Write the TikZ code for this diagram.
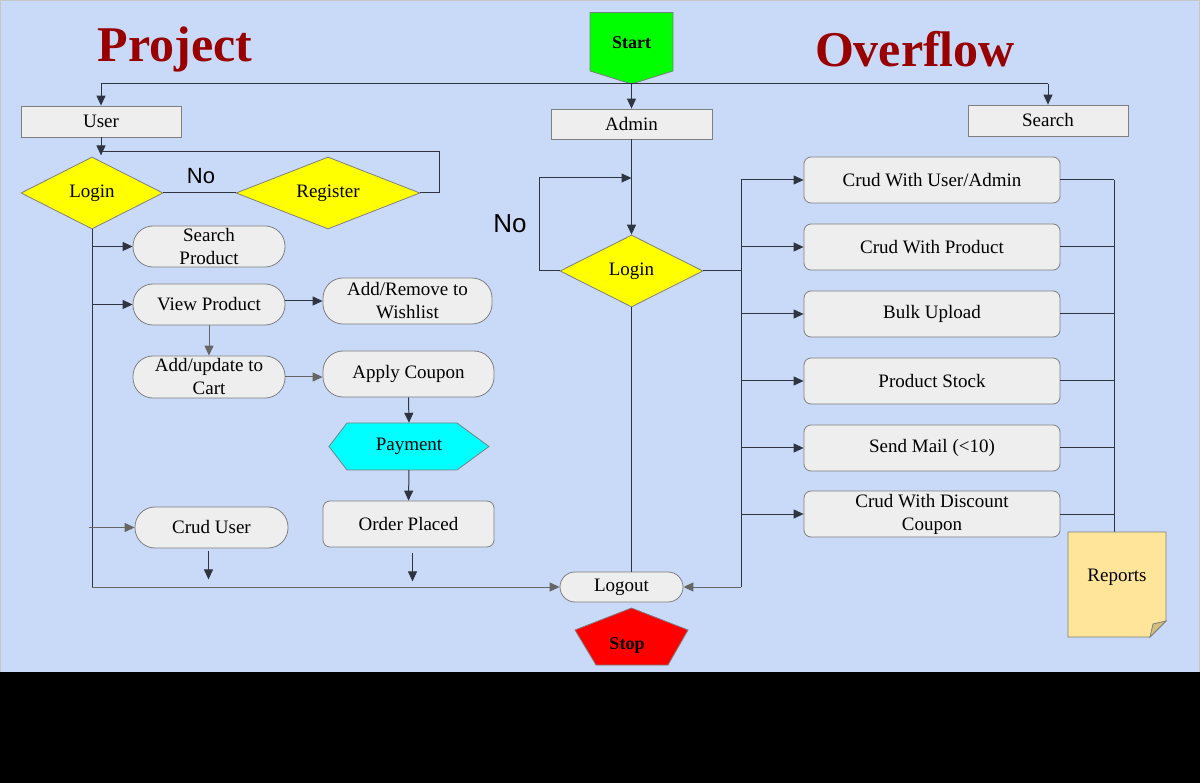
\documentclass[tikz,border=0pt]{standalone}
\usepackage{fontspec}
\setmainfont{Liberation Serif}
\newfontfamily\nofont{Liberation Sans}
\usetikzlibrary{arrows.meta,shapes.geometric}
\definecolor{bg}{HTML}{C9DAF8}
\definecolor{boxfill}{HTML}{EEEEEE}
\definecolor{boxline}{HTML}{7F7F7F}
\definecolor{darkline}{HTML}{2E3440}
\definecolor{grayline}{HTML}{666666}
\definecolor{titlered}{HTML}{990000}
\definecolor{notefill}{HTML}{FFE599}
\definecolor{notefold}{HTML}{D4BE7C}
\definecolor{pgreen}{HTML}{00FF00}
\definecolor{pred}{HTML}{FF0000}
\definecolor{pyellow}{HTML}{FFFF00}
\definecolor{pcyan}{HTML}{00FFFF}
\begin{document}
\begin{tikzpicture}[x=1pt,y=-1pt,
 txt/.style={font=\fontsize{19}{23}\selectfont, align=center, text=black},
 rbox/.style={txt, draw=boxline, fill=boxfill, line width=0.8pt, inner sep=0pt},
 stad/.style={rbox, rounded corners=20pt},
 card/.style={rbox, rounded corners=7pt},
 dia/.style={txt, diamond, aspect=2.5, draw=boxline, fill=pyellow, line width=0.8pt, inner sep=0pt},
 conn/.style={draw=darkline, line width=1pt},
 arr/.style={conn, -{Triangle[length=10pt,width=9pt]}},
 garr/.style={draw=grayline, line width=1pt, -{Triangle[length=10pt,width=9pt]}},
 title/.style={font=\fontsize{50}{55}\selectfont\bfseries, text=titlered},
 shapeline/.style={draw=boxline, line width=0.8pt},
 nolabel/.style={font=\nofont\fontsize{22}{24}\selectfont, text=black}
]
\useasboundingbox (0,0) rectangle (1200,783);
\fill[bg] (0,0) rectangle (1200,672);
\fill[black] (0,672) rectangle (1200,783);
\draw[gray!45, line width=1.2pt] (0.6,672) -- (0.6,0.6) -- (1199.4,0.6) -- (1199.4,672);

% titles
\node[title] (t1) at (175,49) {Project};
\node[title] (t2) at (915,49) {Overflow};

% start
\draw[shapeline, fill=pgreen] (590,12.5) -- (673,12.5) -- (673,71) -- (631.5,84) -- (590,71) -- cycle;
\node[txt, font=\fontsize{18}{22}\selectfont\bfseries] (start) at (631.5,43) {Start};
\coordinate (startTip) at (631.5,84);

% top boxes
\node[rbox, minimum width=160, minimum height=31] (user) at (101,121.5) {User};
\node[rbox, minimum width=161, minimum height=30] (admin) at (631.5,124) {Admin};
\node[rbox, minimum width=160, minimum height=31] (search) at (1048,120.5) {Search};

\draw[conn] (user.north |- startTip) -- (search.north |- startTip);
\draw[arr] (user.north |- startTip) -- (user.north);
\draw[arr] (search.north |- startTip) -- (search.north);
\draw[arr] (startTip) -- (admin.north);

% user side
\node[dia, minimum width=142, minimum height=72] (ulogin) at (92,193) {Login};
\node[dia, minimum width=184, minimum height=72] (reg) at (328,193) {Register};
\draw[arr] (user.south) -- ++(0,18);
\draw[conn] (reg.east) -- ++(19,0) |- (user.south |- 0,152);
\draw[conn] (ulogin.east) -- (reg.west);
\node[nolabel] (no1) at (201,176) {No};

\node[stad, minimum width=152, minimum height=41] (sp) at (209,246.5) {Search\\Product};
\node[stad, minimum width=152, minimum height=41] (vp) at (209,304.5) {View Product};
\node[stad, minimum width=169, minimum height=46] (wl) at (407.5,301) {Add/Remove to\\Wishlist};
\node[stad, minimum width=152, minimum height=42] (cart) at (209,377) {Add/update to\\Cart};
\node[stad, minimum width=171, minimum height=46] (coupon) at (408.5,374) {Apply Coupon};
\node[minimum width=160, minimum height=47, inner sep=0pt] (pay) at (409,446.5) {};
\draw[shapeline, fill=pcyan] (329,446.5) -- (347,423) -- (457,423) -- (489,446.5) -- (457,470) -- (347,470) -- cycle;
\node[txt] (payText) at (pay.center) {Payment};
\node[card, minimum width=171, minimum height=46] (order) at (408.5,524) {Order Placed};
\node[stad, minimum width=153, minimum height=41] (cu) at (211.5,527.5) {Crud User};
\node[rbox, rounded corners=15pt, minimum width=123, minimum height=30] (logout) at (621.5,587) {Logout};

\draw[conn] (ulogin.south) -- (ulogin.south |- logout.west);
\draw[garr] (ulogin.south |- logout.west) -- (logout.west);
\draw[arr] (ulogin.south |- sp.west) -- (sp.west);
\draw[arr] (ulogin.south |- vp.west) -- (vp.west);
\draw[garr] ([xshift=-3pt]ulogin.south |- cu.west) -- (cu.west);
\draw[arr] (vp.east |- wl.west) -- (wl.west);
\draw[garr] (vp.south) -- (cart.north);
\draw[garr] (cart.east) -- (cart.east -| coupon.west);
\draw[arr] (coupon.south) -- (pay.north);
\draw[arr] (pay.south) -- (order.north);
\draw[arr] ([xshift=-3pt,yshift=-3pt]cu.south) -- ++(0,28);
\draw[arr] ([xshift=4pt,yshift=-6pt]order.south) -- ++(0,28);

% stop
\draw[shapeline, fill=pred] (631.5,608) -- (688,630) -- (668,665) -- (596,665) -- (575,630) -- cycle;
\node[txt, font=\fontsize{18}{22}\selectfont\bfseries] (stop) at (627,645) {Stop};

% admin side
\node[dia, minimum width=143, minimum height=72] (alogin) at (631.5,271) {Login};
\coordinate (aloop) at (631.5,178);
\draw[arr] (admin.south) -- (alogin.north);
\draw[arr] (alogin.west) -- ++(-20,0) |- (aloop);
\node[nolabel, font=\nofont\fontsize{26}{28}\selectfont] (no2) at (510,224) {No};
\draw[conn] (alogin.south) -- (alogin.south |- logout.north);

\foreach \i/\yy/\t in {1/180/{Crud With User/Admin}, 2/247/{Crud With Product}, 3/314/{Bulk Upload}, 4/381/{Product Stock}, 5/448/{Send Mail (<10)}, 6/514/{Crud With Discount\\Coupon}}{
  \node[card, minimum width=256, minimum height=46] (c\i) at (932,\yy) {\t};
}
\coordinate (bt) at (741,180);
\coordinate (bb) at (741,587);
\draw[conn] (alogin.east) -- (alogin.east -| bt);
\draw[conn] (bt) -- (bb);
\draw[garr] (bb) -- (logout.east);
\foreach \i in {1,...,6}{
  \draw[arr] (bt |- c\i.west) -- (c\i.west);
}

% reports
\node[minimum width=98, minimum height=105, inner sep=0pt] (reports) at (1117,584.5) {};
\coordinate (rt) at (1114,180);
\foreach \i in {1,...,6}{
  \draw[conn] (c\i.east) -- (c\i.east -| rt);
}
\draw[conn] (rt) -- (rt |- reports.north);
\draw[shapeline, fill=notefill] (1068,532) -- (1166,532) -- (1166,621) -- (1150,637) -- (1068,637) -- cycle;
\draw[shapeline, fill=notefold] (1166,621) -- (1150,637) -- (1153,624) -- cycle;
\node[txt] (reportsText) at (1117,577) {Reports};
\end{tikzpicture}
\end{document}
